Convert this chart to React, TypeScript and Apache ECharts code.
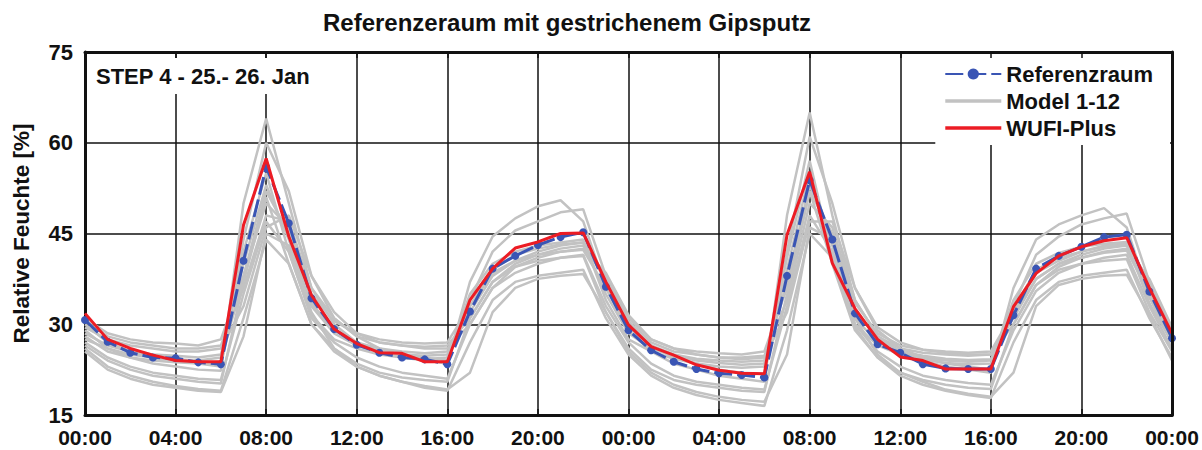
import React, { useEffect, useRef } from "react";
import * as echarts from "echarts";

const TITLE = "Referenzeraum mit gestrichenem Gipsputz";
const STEP_LABEL = "STEP 4 - 25.- 26. Jan";
const Y_NAME = "Relative Feuchte [%]";

const HOURS = [
  0, 1, 2, 3, 4, 5, 6, 7, 8, 9, 10, 11, 12, 13, 14, 15, 16, 17, 18, 19, 20, 21, 22, 23, 24,
  25, 26, 27, 28, 29, 30, 31, 32, 33, 34, 35, 36, 37, 38, 39, 40, 41, 42, 43, 44, 45, 46, 47, 48,
];

const REFERENZRAUM = [
  30.7, 27.1, 25.3, 24.5, 24.4, 23.7, 23.4, 40.5, 56.0, 46.7, 34.3, 29.2, 26.6, 25.3, 24.5, 24.2, 23.4,
  32.1, 39.2, 41.3, 43.1, 44.4, 45.2, 36.2, 29.0, 25.7, 23.8, 22.6, 21.9, 21.6, 21.2, 38.0, 53.8,
  44.0, 31.8, 26.7, 25.3, 23.4, 22.7, 22.6, 22.6, 31.5, 39.2, 41.3, 42.8, 44.4, 44.8, 35.4, 27.7,
];

const WUFI_PLUS = [
  31.8, 27.5, 26.0, 24.9, 24.0, 23.8, 23.8, 46.4, 57.4, 44.5, 34.8, 29.2, 26.8, 25.3, 25.2, 23.8, 23.8,
  34.0, 39.2, 42.6, 43.6, 45.0, 45.1, 37.0, 29.9, 26.3, 24.9, 23.3, 22.4, 21.9, 21.8, 44.8, 55.2,
  40.1, 32.6, 27.5, 24.6, 24.0, 22.6, 22.6, 22.6, 32.9, 38.4, 41.3, 42.8, 43.8, 44.3, 36.0, 28.5,
];

const MODEL_1 = [29, 26, 24.5, 23.5, 23, 22.5, 22.3, 50, 64, 50, 36, 30, 27, 25.5, 24.5, 24, 23.5, 37, 44.5, 47.5, 49.5, 50.5, 47, 36, 29, 25.5, 23.5, 22.5, 21.5, 21, 20.5, 48, 65, 48, 34, 28, 25.5, 24, 23, 22.5, 22, 36, 44, 46.5, 48, 49.2, 46, 34.5, 27];
const MODEL_2 = [30, 27, 25.5, 24.5, 24, 23.5, 23, 44, 60, 52, 38, 31, 28, 26, 25, 24.5, 24, 34, 42, 45.5, 47, 48.5, 49, 38, 30, 26.5, 24.5, 23.5, 22.5, 22, 21.8, 42, 61, 50, 36, 29, 26, 24.5, 23.5, 23, 22.5, 33, 41.5, 44.5, 46.5, 47.5, 48.3, 37, 28];
const MODEL_3 = [31, 28.5, 27.5, 27, 26.8, 26.5, 27.5, 38, 50, 46, 35, 30.5, 28.5, 27.5, 27, 26.8, 27, 33, 38.5, 40.5, 42, 43, 43.5, 38, 31, 27.5, 26, 25.5, 25.2, 25, 25.5, 36, 52, 45, 33.5, 28.5, 26.5, 25.8, 25.5, 25.3, 25.5, 32, 38.5, 40.5, 42, 43, 43.5, 37, 29];
const MODEL_4 = [30.5, 28, 27, 26.5, 26, 26, 26.5, 36, 48, 47, 36, 31, 28, 27, 26.5, 26.3, 26.5, 31, 37, 40, 41.5, 42.5, 43, 37.5, 30.5, 27, 25.5, 25, 24.5, 24.5, 24.8, 34, 50, 46, 34, 28, 26, 25.3, 25, 24.8, 25, 31, 37.5, 40, 41.5, 42.5, 43, 36.5, 28.5];
const MODEL_5 = [29.5, 27.5, 26.5, 26, 25.5, 25.5, 26, 33, 46, 48, 38, 32, 28.5, 27, 26.5, 26, 26, 30, 36, 39.5, 41, 42, 42.5, 38.5, 31.5, 27.5, 26, 25, 24.5, 24.2, 24.5, 32, 47, 47, 36, 29.5, 27, 25.8, 25.3, 25, 25, 30, 36.5, 39.5, 41, 42, 42.5, 37.5, 29.5];
const MODEL_6 = [28.5, 26.5, 25.5, 25, 24.8, 24.5, 25, 40, 53, 44, 33, 28.5, 26.5, 25.5, 25, 24.8, 25, 33, 39, 41.5, 42.5, 43.2, 43.5, 35, 28.5, 26, 24.8, 24, 23.6, 23.3, 23.5, 39, 55, 43, 31, 27, 25.5, 24.5, 24, 23.8, 24, 32.5, 39, 41, 42, 42.8, 43.2, 34.5, 27.5];
const MODEL_7 = [27.5, 26, 25, 24.5, 24.2, 24, 24.5, 42, 55, 42, 31.5, 27.5, 26, 25, 24.5, 24.2, 24.5, 35, 40, 42, 43, 43.5, 44, 34, 27.5, 25.5, 24.3, 23.5, 23, 22.8, 23, 41, 57, 41, 30, 26.5, 25, 24.2, 23.6, 23.4, 23.5, 34, 40, 41.8, 42.8, 43.3, 43.6, 33.5, 27];
const MODEL_8 = [27, 24.5, 23, 22, 21.5, 21, 20.8, 35, 47, 42, 31, 27, 24.5, 23, 22, 21.5, 21, 30, 36, 38.5, 40, 41, 41.5, 33, 27, 23.5, 21.5, 20.5, 20, 19.5, 19.2, 33, 48, 42, 30, 25.5, 23, 21.5, 20.8, 20.3, 20, 29, 35.5, 38.5, 40, 41, 41.5, 33, 26];
const MODEL_9 = [26.5, 24, 22.5, 21.5, 21, 20.5, 20.2, 37, 51, 40, 30, 26, 23.5, 22, 21.2, 20.8, 20.5, 31, 37, 39.5, 40.5, 41, 41.3, 32, 26, 22.5, 20.8, 20, 19.5, 19, 18.8, 35, 52, 40, 29, 24.5, 22, 20.8, 20, 19.5, 19.3, 30, 36.5, 39, 40, 40.5, 40.8, 32, 25.5];
const MODEL_10 = [26, 23, 21.5, 20.5, 19.8, 19.3, 19, 31, 44, 40, 30, 25.5, 23, 21.5, 20.5, 19.5, 19, 27, 34, 37, 38, 38.5, 39, 31, 25, 21.5, 19.5, 18.3, 17.5, 17, 16.5, 29, 45, 41, 29.5, 24.5, 21.5, 20, 19, 18.3, 17.8, 27, 34, 37, 38, 38.5, 39, 31, 24.5];
const MODEL_11 = [25.5, 22.5, 21, 20, 19.5, 19, 18.8, 28, 45, 43, 32, 26, 23, 21.5, 20.5, 19.8, 19.2, 22, 32, 36, 37.5, 38, 38.3, 32, 25.5, 22, 20, 18.8, 18, 17.5, 17.2, 25, 46, 44, 31, 25, 22, 20.5, 19.2, 18.5, 18, 22, 33, 36.5, 37.5, 38, 38.2, 31.5, 24];
const MODEL_12 = [28, 25.5, 24.5, 24, 23.7, 23.5, 23.8, 38, 52, 45, 33.5, 29, 27, 26, 25.5, 25.2, 25.5, 32, 38, 40.5, 41.5, 42, 42.3, 36, 29.5, 26.5, 25, 24.3, 24, 23.8, 24, 37, 53, 44, 32.5, 27.5, 25.5, 24.8, 24.3, 24.1, 24.2, 31.5, 37.5, 40, 41, 41.8, 42.2, 35, 28];

const MODELS = [MODEL_1, MODEL_2, MODEL_3, MODEL_4, MODEL_5, MODEL_6, MODEL_7, MODEL_8, MODEL_9, MODEL_10, MODEL_11, MODEL_12];

const FONT = '"Liberation Sans", Arial, sans-serif';
const INK = "#111111";
const LINE_ICON = "path://M0,0 L56,0 L56,3.5 L0,3.5 Z";

const toPairs = (vals: number[]) => HOURS.map((h, i) => [h, vals[i]]);
const hourLabel = (v: number) => String(v % 24).padStart(2, "0") + ":00";

export default function App() {
  const ref = useRef<HTMLDivElement>(null);
  useEffect(() => {
    if (!ref.current) return;
    const chart = echarts.init(ref.current, undefined, { renderer: "svg" });
    const grayStyle = { color: "#c2c2c2", width: 2.5 };
    const modelSeries = MODELS.map((m) => ({
      type: "line",
      name: "Model 1-12",
      data: toPairs(m),
      symbol: "none",
      lineStyle: grayStyle,
      itemStyle: { color: "#c2c2c2" },
      z: 2,
    }));
    const axisCommon = {
      type: "value",
      min: 0,
      max: 48,
      interval: 4,
    };
    chart.setOption({
      animation: false,
      backgroundColor: "#ffffff",
      title: {
        text: TITLE,
        left: 318,
        top: 5,
        textStyle: { fontFamily: FONT, fontWeight: "bold", fontSize: 24, color: INK },
      },
      grid: { left: 85, right: 30, top: 52, bottom: 35 },
      legend: {
        orient: "vertical",
        right: 32,
        top: 53,
        backgroundColor: "#ffffff",
        padding: [10, 17, 6, 9],
        itemWidth: 56,
        itemHeight: 14,
        itemGap: 5,
        data: [
          { name: "Referenzraum" },
          { name: "Model 1-12", icon: LINE_ICON },
          { name: "WUFI-Plus", icon: LINE_ICON },
        ],
        textStyle: { fontFamily: FONT, fontWeight: "bold", fontSize: 22, color: INK },
        z: 6,
      },
      xAxis: [
        {
          ...axisCommon,
          position: "bottom",
          axisLine: { show: true, lineStyle: { color: INK, width: 3 } },
          axisTick: { show: true, inside: true, length: 6, lineStyle: { color: INK, width: 1.5 } },
          axisLabel: {
            formatter: hourLabel,
            fontFamily: FONT,
            fontWeight: "bold",
            fontSize: 21,
            lineHeight: 19,
            color: INK,
            margin: 13,
          },
          splitLine: { show: true, lineStyle: { color: INK, width: 1.5 } },
        },
        {
          ...axisCommon,
          position: "top",
          axisLine: { show: true, onZero: false, lineStyle: { color: INK, width: 3 } },
          axisTick: { show: true, inside: true, length: 6, lineStyle: { color: INK, width: 1.5 } },
          axisLabel: { show: false },
          splitLine: { show: false },
          z: 10,
        },
      ],
      yAxis: [
        {
          type: "value",
          min: 15,
          max: 75,
          interval: 15,
          name: Y_NAME,
          nameLocation: "middle",
          nameGap: 52,
          nameTextStyle: { fontFamily: FONT, fontWeight: "bold", fontSize: 22.5, color: INK },
          axisLine: { show: true, lineStyle: { color: INK, width: 3 } },
          axisTick: { show: false },
          axisLabel: {
            fontFamily: FONT,
            fontWeight: "bold",
            fontSize: 22,
            lineHeight: 18,
            color: INK,
            margin: 12,
          },
          splitLine: { show: true, lineStyle: { color: INK, width: 1.5 } },
        },
        {
          type: "value",
          min: 15,
          max: 75,
          interval: 15,
          position: "right",
          axisLine: { show: true, onZero: false, lineStyle: { color: INK, width: 3 } },
          axisTick: { show: false },
          axisLabel: { show: false },
          splitLine: { show: false },
          z: 10,
        },
      ],
      graphic: [
        {
          type: "text",
          left: 90,
          top: 58,
          z: 100,
          style: {
            text: STEP_LABEL,
            font: `bold 22px ${FONT}`,
            fill: INK,
            backgroundColor: "#ffffff",
            padding: [7, 6, 7, 6],
          },
        },
      ],
      series: [
        ...modelSeries,
        {
          type: "line",
          name: "Referenzraum",
          data: toPairs(REFERENZRAUM),
          symbol: "circle",
          symbolSize: 8,
          itemStyle: { color: "#3a55b4" },
          lineStyle: { color: "#3a55b4", width: 3, type: [18, 5] },
          z: 3,
        },
        {
          type: "line",
          name: "WUFI-Plus",
          data: toPairs(WUFI_PLUS),
          symbol: "none",
          itemStyle: { color: "#ec1c24" },
          lineStyle: { color: "#ec1c24", width: 3 },
          z: 4,
        },
      ],
    });
    return () => chart.dispose();
  }, []);
  return (
    <div
      ref={ref}
      style={{ position: "fixed", left: 0, top: 0, width: 1202, height: 450 }}
    />
  );
}
